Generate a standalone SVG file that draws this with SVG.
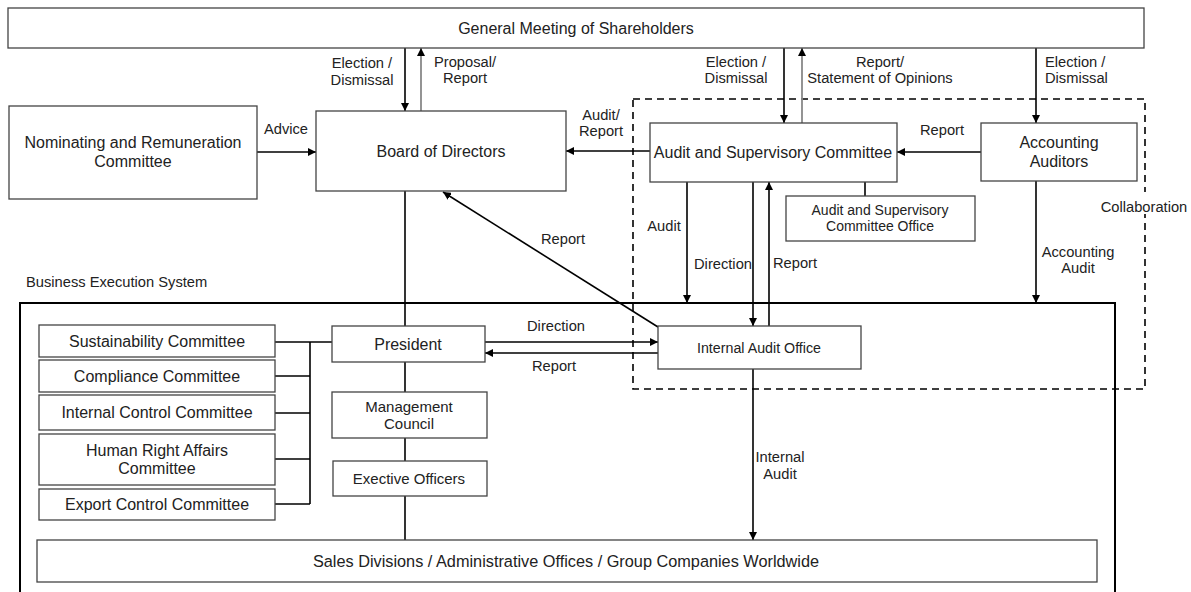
<svg xmlns="http://www.w3.org/2000/svg" width="1191" height="592" viewBox="0 0 1191 592">
<defs>
<marker id="ah" viewBox="0 0 10 10" refX="10" refY="5" markerWidth="8" markerHeight="8" markerUnits="userSpaceOnUse" orient="auto"><path d="M0,0 L10,5 L0,10 z" fill="#000"/></marker>
<marker id="ahg" viewBox="0 0 10 10" refX="10" refY="5" markerWidth="8" markerHeight="8" markerUnits="userSpaceOnUse" orient="auto"><path d="M0,0 L10,5 L0,10 z" fill="#000"/></marker>
<style>
text{font-family:"Liberation Sans",Arial,sans-serif;fill:#222;text-anchor:middle}
.box{fill:#fff;stroke:#444;stroke-width:1.3}
.n16{font-size:16px}
.n15{font-size:15px}
.n14{font-size:14px}
.lbl{font-size:14.7px}
.c{stroke:#000;stroke-width:1.6;fill:none}
.a{marker-end:url(#ah)}
.g{stroke:#888;stroke-width:1.8;fill:none;marker-end:url(#ahg)}
</style>
</defs>
<rect width="1191" height="592" fill="#fff"/>

<!-- containers -->
<rect x="20" y="303" width="1095" height="300" fill="none" stroke="#000" stroke-width="2"/>
<text class="lbl" x="26" y="287" style="text-anchor:start">Business Execution System</text>
<rect x="633" y="99" width="512" height="290" fill="none" stroke="#000" stroke-width="1.6" stroke-dasharray="7 5"/>
<rect x="1100" y="192" width="89" height="22" fill="#fff"/>
<text class="lbl" x="1144" y="212">Collaboration</text>

<!-- connectors -->
<g id="connectors">
<line class="c a" x1="405" y1="48" x2="405" y2="111"/>
<line class="g" x1="421" y1="111" x2="421" y2="48"/>
<line class="c a" x1="784" y1="48" x2="784" y2="123"/>
<line class="g" x1="802" y1="123" x2="802" y2="48"/>
<line class="c a" x1="1036" y1="48" x2="1036" y2="123"/>
<line class="c a" x1="257" y1="152" x2="316" y2="152"/>
<line class="c a" x1="650" y1="151" x2="566" y2="151"/>
<line class="c a" x1="981" y1="152" x2="897" y2="152"/>
<line class="c" x1="865" y1="182" x2="865" y2="196"/>
<line class="c a" x1="687" y1="182" x2="687" y2="303"/>
<line class="c a" x1="753" y1="182" x2="753" y2="326"/>
<line class="c a" x1="769" y1="326" x2="769" y2="182"/>
<line class="c a" x1="1036" y1="181" x2="1036" y2="303"/>
<line class="c a" x1="658" y1="327" x2="443" y2="192"/>
<line class="c a" x1="485" y1="342" x2="658" y2="342"/>
<line class="c a" x1="658" y1="353" x2="485" y2="353"/>
<line class="c a" x1="753" y1="369" x2="753" y2="540"/>
<line class="c" x1="405" y1="191" x2="405" y2="326"/>
<line class="c" x1="405" y1="362" x2="405" y2="392"/>
<line class="c" x1="405" y1="438" x2="405" y2="461"/>
<line class="c" x1="405" y1="496" x2="405" y2="540"/>
<line class="c" x1="310" y1="342" x2="310" y2="504"/>
<line class="c" x1="275" y1="342" x2="332" y2="342"/>
<line class="c" x1="275" y1="376" x2="310" y2="376"/>
<line class="c" x1="275" y1="413" x2="310" y2="413"/>
<line class="c" x1="275" y1="459" x2="310" y2="459"/>
<line class="c" x1="275" y1="504" x2="310" y2="504"/>
</g>

<!-- connector labels -->
<g id="labels" class="lbl">
<text x="362" y="68">Election /</text><text x="362" y="85">Dismissal</text>
<text x="465" y="67">Proposal/</text><text x="465" y="83">Report</text>
<text x="736" y="67">Election /</text><text x="736" y="83">Dismissal</text>
<text x="880" y="67">Report/</text><text x="880" y="83">Statement of Opinions</text>
<text x="1045" y="67" style="text-anchor:start">Election /</text><text x="1045" y="83" style="text-anchor:start">Dismissal</text>
<text x="286" y="134">Advice</text>
<text x="601" y="120">Audit/</text><text x="601" y="136">Report</text>
<text x="942" y="135">Report</text>
<text x="664" y="231">Audit</text>
<text x="723" y="269">Direction</text>
<text x="795" y="268">Report</text>
<text x="1078" y="257">Accounting</text><text x="1078" y="273">Audit</text>
<text x="563" y="244">Report</text>
<text x="556" y="331">Direction</text>
<text x="554" y="371">Report</text>
<text x="780" y="462">Internal</text><text x="780" y="479">Audit</text>
</g>

<!-- nodes -->
<g id="gms"><rect class="box" x="8" y="8" width="1136" height="40"/><text class="n16" x="576" y="34">General Meeting of Shareholders</text></g>
<g id="nrc"><rect class="box" x="9" y="106" width="248" height="93"/><text class="n16" x="133" y="148">Nominating and Remuneration</text><text class="n16" x="133" y="167">Committee</text></g>
<g id="board"><rect class="box" x="316" y="111" width="250" height="80"/><text class="n16" x="441" y="157">Board of Directors</text></g>
<g id="asc"><rect class="box" x="650" y="123" width="247" height="59"/><text class="n16" x="773" y="158">Audit and Supervisory Committee</text></g>
<g id="aa"><rect class="box" x="981" y="123" width="156" height="58"/><text class="n16" x="1059" y="148">Accounting</text><text class="n16" x="1059" y="167">Auditors</text></g>
<g id="asco"><rect class="box" x="786" y="196" width="189" height="45"/><text class="n14" x="880" y="215">Audit and Supervisory</text><text class="n14" x="880" y="231">Committee Office</text></g>
<g id="sus"><rect class="box" x="39" y="325" width="236" height="32"/><text class="n16" x="157" y="347">Sustainability Committee</text></g>
<g id="comp"><rect class="box" x="39" y="360" width="236" height="32"/><text class="n16" x="157" y="382">Compliance Committee</text></g>
<g id="icc"><rect class="box" x="39" y="395" width="236" height="35"/><text class="n16" x="157" y="418">Internal Control Committee</text></g>
<g id="hra"><rect class="box" x="39" y="434" width="236" height="51"/><text class="n16" x="157" y="456">Human Right Affairs</text><text class="n16" x="157" y="474">Committee</text></g>
<g id="ecc"><rect class="box" x="39" y="489" width="236" height="31"/><text class="n16" x="157" y="510">Export Control Committee</text></g>
<g id="pres"><rect class="box" x="332" y="326" width="153" height="36"/><text class="n16" x="408" y="350">President</text></g>
<g id="mc"><rect class="box" x="332" y="392" width="155" height="46"/><text class="n15" x="409" y="412">Management</text><text class="n15" x="409" y="429">Council</text></g>
<g id="eo"><rect class="box" x="333" y="461" width="154" height="35"/><text class="n15" x="409" y="484">Exective Officers</text></g>
<g id="iao"><rect class="box" x="658" y="326" width="203" height="43"/><text class="n14" x="759" y="353" textLength="124" lengthAdjust="spacingAndGlyphs">Internal Audit Office</text></g>
<g id="sales"><rect class="box" x="37" y="540" width="1060" height="42"/><text x="566" y="567" style="font-size:16.3px">Sales Divisions / Administrative Offices / Group Companies Worldwide</text></g>
</svg>
